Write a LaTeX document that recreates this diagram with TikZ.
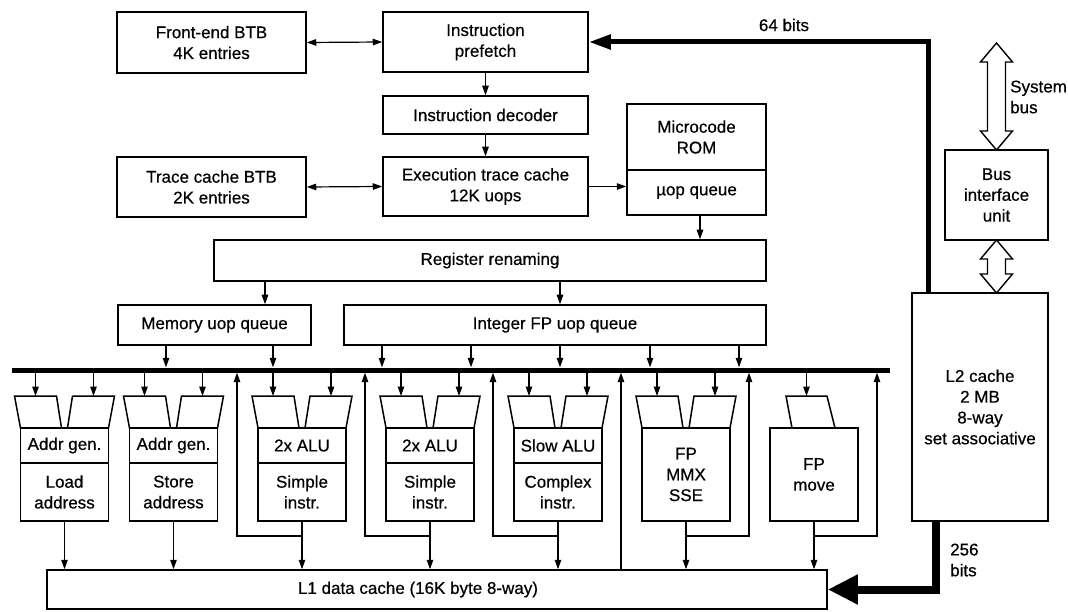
\documentclass[tikz,border=0pt]{standalone}
\usepackage{fontspec}
\setmainfont{Liberation Sans}[UprightFeatures={FakeBold=0.5}]
\usetikzlibrary{arrows.meta,calc}
\newcommand\fs{\fontsize{17}{20.8}\selectfont}
\newcommand\bx[6]{\node[box,minimum width={(#4-(#2))*1pt},minimum height={(#5-(#3))*1pt}] (#1) at ({(#2+#4)/2},{(#3+#5)/2}) {#6};}
\newcommand\ubox[5]{\node[box,minimum width=88pt,minimum height={(#4-(#3))*1pt}] (#1) at (#2,{(#3+#4)/2}) {#5};}
\newcommand\twoin[2]{%
  \draw[trap] ({#2-50},396) -- ({#2-8},396) -- ({#2-3},428) -- ({#2-44},428) -- cycle;
  \draw[trap] ({#2+8},396) -- ({#2+50},396) -- ({#2+44},428) -- ({#2+3},428) -- cycle;
  \coordinate (#1a) at ({#2-29},396);
  \coordinate (#1b) at ({#2+29},396);
  \draw[arr] (bus.south -| #1a) -- (#1a);
  \draw[arr] (bus.south -| #1b) -- (#1b);}
\newcommand\hollowarrow[3]{%
  \draw[line width=1.4pt,fill=white,line join=miter] (#1,#2) -- ++(16,19) -- ++(-7,0) -- ({#1+9},{#3-19}) -- ++(7,0) -- (#1,#3) -- ++(-16,-19) -- ++(7,0) -- ({#1-9},{#2+19}) -- ++(-7,0) -- cycle;}
\begin{document}
\begin{tikzpicture}[x=1pt,y=-1pt,
  box/.style={draw,line width=1.5pt,inner sep=0pt,align=center,font=\fs},
  arr/.style={line width=1.2pt,-{Triangle[length=9.5pt,width=6.5pt]}},
  darr/.style={line width=1.2pt,{Triangle[length=9.5pt,width=6.5pt]}-{Triangle[length=9.5pt,width=6.5pt]}},
  trap/.style={draw,line width=1.5pt,line join=miter},
  lbl/.style={font=\fs,inner sep=0pt,align=left}]
\fill[white] (0,0) rectangle (1068,612);
\useasboundingbox (0,0) rectangle (1068,612);
% front end
\bx{feBTB}{117}{12}{306}{73}{Front-end BTB\\4K entries}
\bx{pref}{383}{12}{588}{72}{Instruction\\prefetch}
\bx{dec}{383}{96}{588}{134}{Instruction decoder}
\bx{etc}{383}{157}{588}{216}{Execution trace cache\\12K uops}
\bx{tcBTB}{117}{157}{306}{217}{Trace cache BTB\\2K entries}
\bx{rom}{627}{104}{766}{170}{Microcode\\ROM}
\bx{uopq}{627}{170}{766}{215}{µop queue}
\bx{ren}{214}{240}{766}{281}{Register renaming}
\bx{memq}{118}{305}{311}{345}{Memory uop queue}
\bx{intq}{344}{305}{766}{345}{Integer FP uop queue}
\bx{biu}{945}{150}{1048}{240}{Bus\\interface\\unit}
\bx{ltwo}{912}{293}{1048}{521}{L2 cache\\2 MB\\8-way\\set associative}
\bx{lone}{47}{570}{827}{609}{}
\node[font=\fs,inner sep=0pt] (lonetxt) at (418,589.5) {L1 data cache (16K byte 8-way)};
\draw[darr] (feBTB.east) -- (pref.west);
\draw[darr] (tcBTB.east) -- (etc.west);
\draw[arr] (pref.south) -- (dec.north);
\draw[arr] (dec.south) -- (etc.north);
\draw[arr] (etc.east) -- (etc.east -| uopq.west);
\draw[arr] (uopq.south -| 700,0) -- (ren.north -| 700,0);
\draw[arr] (ren.south -| 265,0) -- (memq.north -| 265,0);
\draw[arr] (ren.south -| 560,0) -- (intq.north -| 560,0);
% bus
\node[fill=black,inner sep=0pt,minimum width=878pt,minimum height=5pt] (bus) at (451,370) {};
\foreach \xx in {166,273} \draw[arr] (memq.south -| \xx,0) -- (bus.north -| \xx,0);
\foreach \xx in {382,471,560,650,739} \draw[arr] (intq.south -| \xx,0) -- (bus.north -| \xx,0);
% units
\twoin{u1}{64.5}
\ubox{u1t}{64.5}{428}{463}{Addr gen.}
\ubox{u1m}{64.5}{463}{521}{Load\\address}
\twoin{u2}{173.5}
\ubox{u2t}{173.5}{428}{463}{Addr gen.}
\ubox{u2m}{173.5}{463}{521}{Store\\address}
\twoin{u3}{302}
\ubox{u3t}{302}{428}{463}{2x ALU}
\ubox{u3m}{302}{463}{521}{Simple\\instr.}
\twoin{u4}{430}
\ubox{u4t}{430}{428}{463}{2x ALU}
\ubox{u4m}{430}{463}{521}{Simple\\instr.}
\twoin{u5}{558}
\ubox{u5t}{558}{428}{463}{Slow ALU}
\ubox{u5m}{558}{463}{521}{Complex\\instr.}
\twoin{u6}{686}
\ubox{u6m}{686}{428}{521}{FP\\MMX\\SSE}
\draw[trap] (786,396) -- (827,396) -- (835,428) -- (792,428) -- cycle;
\coordinate (u7a) at (806.5,396);
\draw[arr] (bus.south -| u7a) -- (u7a);
\ubox{u7m}{814}{428}{521}{FP\\move}
% outputs to L1
\foreach \u in {u1m,u2m,u3m,u4m,u5m,u6m,u7m} \draw[arr] (\u.south) -- (\u.south |- lone.north);
% feedback to bus
\draw[arr] (u3m.south |- 0,536) -| (bus.south -| 237,0);
\draw[arr] (u4m.south |- 0,536) -| (bus.south -| 365,0);
\draw[arr] (u5m.south |- 0,536) -| (bus.south -| 493,0);
\draw[arr] (lone.north -| 621,0) -- (bus.south -| 621,0);
\draw[arr] (u6m.south |- 0,536) -| (bus.south -| 749,0);
\draw[arr] (u7m.south |- 0,536) -| (bus.south -| 877,0);
% wide buses
\draw[line width=5pt,-{Triangle[length=22pt,width=14pt]}] (ltwo.north -| 928,0) |- (pref.east);
\draw[line width=8pt,-{Triangle[length=30pt,width=28pt]}] (ltwo.south -| 936,0) |- (lone.east);
\node[lbl] (l64) at (784,25) {64 bits};
\node[lbl,anchor=west] (lsys) at (1010,97) {System\\bus};
\node[lbl,anchor=west] (l256) at (950,560) {256\\bits};
\hollowarrow{996.5}{43}{150}
\hollowarrow{996.5}{240}{293}
\end{tikzpicture}
\end{document}
